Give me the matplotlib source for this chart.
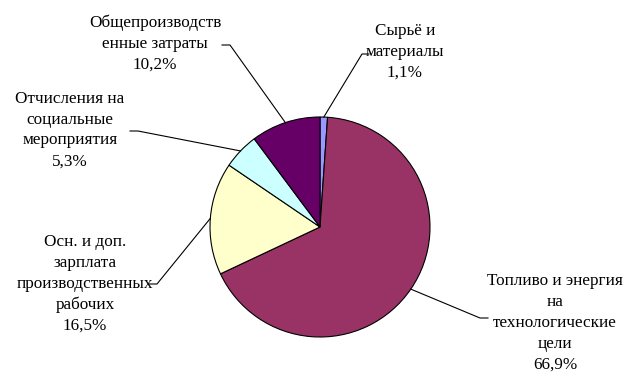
import numpy as np
import matplotlib.pyplot as plt

plt.rcParams['font.family'] = ['Liberation Serif', 'DejaVu Serif']

# данные
labels = ['Сырьё и\nматериалы', 'Топливо и энергия\nна\nтехнологические\nцели',
          'Осн. и доп.\nзарплата\nпроизводственных\nрабочих',
          'Отчисления на\nсоциальные\nмероприятия', 'Общепроизводств\nенные затраты']
values = [1.1, 66.9, 16.5, 5.3, 10.2]
colors = ['#9999FF', '#993366', '#FFFFCC', '#CCFFFF', '#660066']

W, H = 636, 384
fig = plt.figure(figsize=(W / 100, H / 100), dpi=100)
ax = fig.add_axes([0, 0, 1, 1])

cx, cy, r = 320, H - 227, 110
ax.pie(values, colors=colors, startangle=90, counterclock=False,
       center=(cx, cy), radius=r, frame=True,
       wedgeprops=dict(edgecolor='black', linewidth=0.8))
ax.set_xlim(0, W)
ax.set_ylim(0, H)
ax.set_aspect('equal')
ax.axis('off')

# позиции подписей (центр текста), точка излома линии, конец горизонтального отрезка
text_pos = [(405, 52), (555, 323), (85, 284), (70, 130), (155, 44)]
elbow = [(362, 54), (480, 318), (157, 284), (138, 131), (230, 45)]
tail = [(369, 54), (488, 318), (148, 284), (130, 131), (222, 45)]

cum = np.cumsum([0] + values[:-1])
for i, (lab, v) in enumerate(zip(labels, values)):
    mid = cum[i] + v / 2
    ang = np.deg2rad(90 - mid / sum(values) * 360)
    px, py = cx + r * np.cos(ang), cy + r * np.sin(ang)
    ex, ey = elbow[i]
    tx, ty = tail[i]
    ax.plot([px, ex, tx], [py, H - ey, H - ty], color='black', lw=0.8)
    txt = lab + '\n' + f'{v:.1f}%'.replace('.', ',')
    x, y = text_pos[i]
    ax.text(x, H - y, txt, ha='center', va='center', fontsize=12.3,
            linespacing=1.4)

fig.savefig('out.png', dpi=100)
